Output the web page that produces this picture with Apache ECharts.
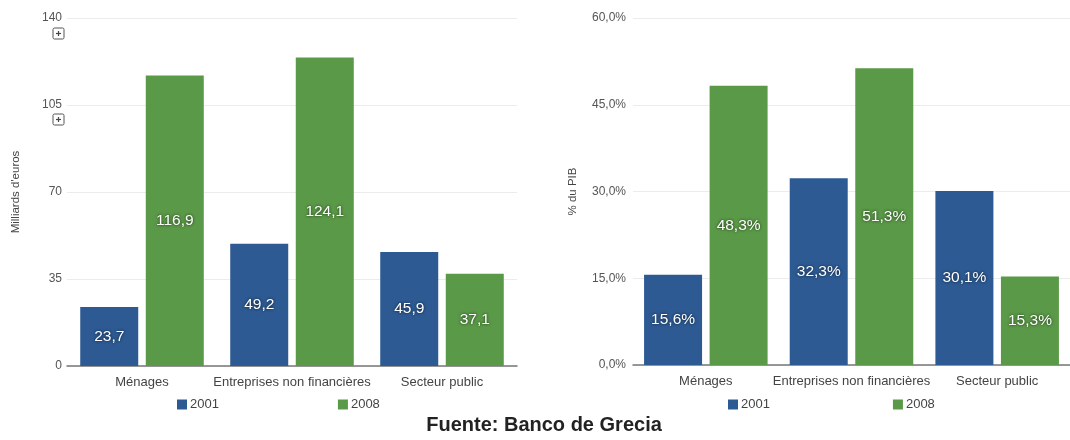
<!DOCTYPE html>
<html>
<head>
<meta charset="utf-8">
<script src="https://cdn.jsdelivr.net/npm/echarts@6/dist/echarts.min.js"></script>
<style>
  html, body { margin: 0; padding: 0; background: #fff; }
  #chart { width: 1070px; height: 440px; }
</style>
</head>
<body>
<div id="chart"></div>
<script>
// Greek private and public debt, 2001 vs 2008
const categories = ['Ménages', 'Entreprises non financières', 'Secteur public'];
const years = ['2001', '2008'];
// billions of euros
const euros2001 = [23.7, 49.2, 45.9];
const euros2008 = [116.9, 124.1, 37.1];
// share of GDP, percent
const pib2001 = [15.6, 32.3, 30.1];
const pib2008 = [48.3, 51.3, 15.3];

const BLUE = '#2d5a93';
const GREEN = '#5a9947';
const FONT = '"Liberation Sans", Arial, sans-serif';

const comma = (v, d) => v.toFixed(d).replace('.', ',');

const labelStyle = (fmt) => ({
  show: true,
  position: 'inside',
  color: '#fff',
  fontFamily: FONT,
  fontSize: 15.5,
  textShadowColor: 'rgba(0,0,0,0.75)',
  textShadowBlur: 3,
  formatter: p => fmt(p.value)
});

const yAxisCommon = {
  type: 'value',
  min: 0,
  axisLine: { show: false },
  axisTick: { show: false },
  splitLine: { lineStyle: { color: '#ececec', width: 1 } },
  axisLabel: { color: '#555', fontFamily: FONT, fontSize: 12, margin: 5 },
  nameLocation: 'middle',
  nameRotate: 90,
  nameTextStyle: { color: '#444', fontFamily: FONT, fontSize: 11.5 }
};

const xAxisCommon = {
  type: 'category',
  data: categories,
  axisTick: { show: false },
  axisLine: { lineStyle: { color: '#777', width: 1.5 } },
  axisLabel: { color: '#444', fontFamily: FONT, fontSize: 13, margin: 10, interval: 0 }
};

const barCommon = { type: 'bar', barWidth: 58, barGap: '13%' };

const legendCommon = {
  top: 398, padding: 0, itemWidth: 10, itemHeight: 10, icon: 'rect',
  data: years,
  textStyle: { color: '#444', fontFamily: FONT, fontSize: 13, padding: [0, 0, 0, -2] }
};

const chart = echarts.init(document.getElementById('chart'));

// small expand glyphs drawn under the top axis labels of the left chart
function expandIcon(x, y) {
  return {
    type: 'group', x: x, y: y, silent: true,
    children: [
      { type: 'rect', shape: { x: 0, y: 0, width: 11, height: 11, r: 1.5 },
        style: { fill: '#fff', stroke: '#555', lineWidth: 1 } },
      { type: 'line', shape: { x1: 3, y1: 5.5, x2: 8, y2: 5.5 }, style: { stroke: '#444', lineWidth: 1.2 } },
      { type: 'line', shape: { x1: 5.5, y1: 3, x2: 5.5, y2: 8 }, style: { stroke: '#444', lineWidth: 1.2 } }
    ]
  };
}

chart.setOption({
  backgroundColor: '#fff',
  animation: false,
  title: {
    text: 'Fuente: Banco de Grecia',
    left: 544, top: 415, textAlign: 'center', padding: 0,
    textStyle: { fontFamily: FONT, fontSize: 20, fontWeight: 'bold', color: '#222' }
  },
  legend: [
    Object.assign({ left: 177, itemGap: 119 }, legendCommon),
    Object.assign({ left: 728, itemGap: 123 }, legendCommon)
  ],
  grid: [
    { left: 67, right: 553, top: 18, bottom: 74 },
    { left: 633, right: -3, top: 18, bottom: 75 }
  ],
  xAxis: [
    Object.assign({ gridIndex: 0 }, xAxisCommon),
    Object.assign({ gridIndex: 1 }, xAxisCommon)
  ],
  yAxis: [
    Object.assign({}, yAxisCommon, {
      gridIndex: 0, max: 140, interval: 35,
      name: "Milliards d'euros", nameGap: 45
    }),
    Object.assign({}, yAxisCommon, {
      gridIndex: 1, max: 60, interval: 15,
      name: '% du PIB', nameGap: 54,
      axisLabel: Object.assign({}, yAxisCommon.axisLabel, {
        margin: 7, formatter: v => comma(v, 1) + '%'
      })
    })
  ],
  series: [
    Object.assign({}, barCommon, {
      name: years[0], xAxisIndex: 0, yAxisIndex: 0, data: euros2001,
      itemStyle: { color: BLUE }, label: labelStyle(v => comma(v, 1))
    }),
    Object.assign({}, barCommon, {
      name: years[1], xAxisIndex: 0, yAxisIndex: 0, data: euros2008,
      itemStyle: { color: GREEN }, label: labelStyle(v => comma(v, 1))
    }),
    Object.assign({}, barCommon, {
      name: years[0], xAxisIndex: 1, yAxisIndex: 1, data: pib2001,
      itemStyle: { color: BLUE }, label: labelStyle(v => comma(v, 1) + '%')
    }),
    Object.assign({}, barCommon, {
      name: years[1], xAxisIndex: 1, yAxisIndex: 1, data: pib2008,
      itemStyle: { color: GREEN }, label: labelStyle(v => comma(v, 1) + '%')
    })
  ],
  graphic: [expandIcon(53, 28), expandIcon(53, 114)]
});
</script>
</body>
</html>
